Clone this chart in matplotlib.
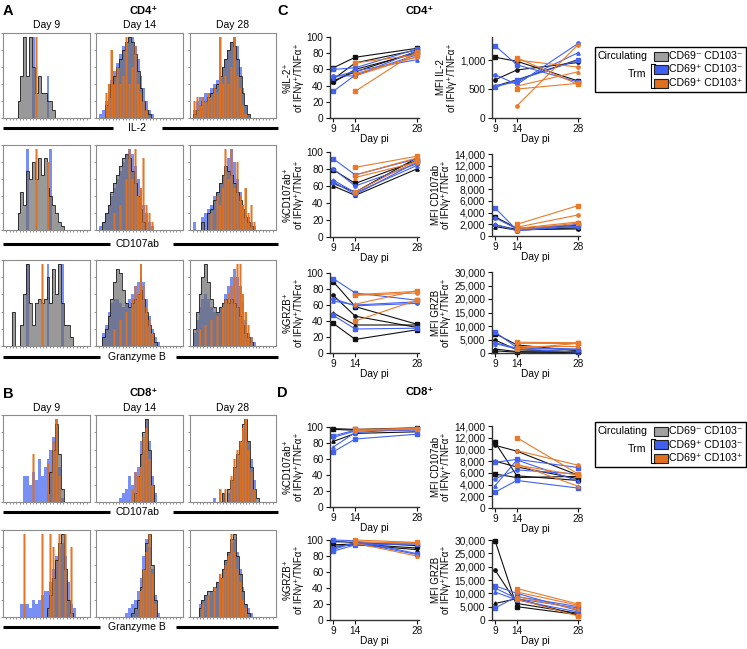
import matplotlib
matplotlib.use("Agg")
import matplotlib.pyplot as plt
from matplotlib.patches import Rectangle
from matplotlib.ticker import FuncFormatter
import numpy as np

plt.rcParams['font.family'] = ['Liberation Sans', 'DejaVu Sans']

W, H = 747, 649

# ---------------- histogram data (30 bins, % of max) ----------------
# each panel: [day9, day14, day28], each day: [gray, blue, orange]
cd4_il2 = [
    [[0,0,0,0,0,20,50,95,50,95,60,30,50,30,30,20,20,10,0,0,0,0,0,0,0,0,0,0,0,0],
     [0,0,0,0,0,0,0,0,0,0,95,0,0,0,0,50,0,0,0,0,0,0,0,0,0,0,0,0,0,0],
     [0,0,0,0,0,0,0,0,0,0,0,95,0,0,0,0,0,0,0,0,0,0,0,0,0,0,0,0,0,0]],
    [[0,0,0,15,25,40,50,60,70,80,90,95,90,75,55,35,20,10,5,0,0,0,0,0,0,0,0,0,0,0],
     [0,5,10,20,30,45,55,65,75,85,90,95,95,85,70,50,35,20,10,5,0,0,0,0,0,0,0,0,0,0],
     [0,0,0,30,40,80,40,60,40,50,95,40,60,85,40,30,20,10,0,0,0,0,0,0,0,0,0,0,0,0]],
    [[0,5,10,15,20,20,25,30,35,40,50,60,70,80,90,85,70,50,30,15,5,0,0,0,0,0,0,0,0,0],
     [0,10,20,25,25,30,30,35,40,45,50,60,70,80,90,95,85,60,35,15,5,0,0,0,0,0,0,0,0,0],
     [0,20,25,15,25,20,30,25,35,30,95,40,50,40,60,95,50,35,15,5,0,0,0,0,0,0,0,0,0,0]],
]
cd4_cd107 = [
    [[0,0,0,0,0,20,45,30,70,60,80,60,85,65,85,50,40,30,20,10,5,0,0,0,0,0,0,0,0,0],
     [0,0,0,0,0,0,0,0,95,0,0,0,0,0,0,0,95,0,0,0,0,0,0,0,0,0,0,0,0,0],
     [0,0,0,0,0,0,0,0,0,0,0,95,0,0,0,80,0,0,0,0,0,0,0,0,0,0,0,0,0,0]],
    [[0,0,10,20,30,45,55,65,75,85,90,85,70,55,40,25,10,0,0,0,0,0,0,0,0,0,0,0,0,0],
     [0,5,10,20,30,40,50,60,70,80,90,95,90,75,60,45,30,20,10,5,0,0,0,0,0,0,0,0,0,0],
     [0,0,0,0,0,0,20,0,30,0,60,95,60,95,40,50,85,30,20,10,0,0,0,0,0,0,0,0,0,0]],
    [[0,0,0,0,10,0,20,25,35,45,55,65,75,70,65,55,45,35,25,15,10,5,0,0,0,0,0,0,0,0],
     [0,10,0,0,15,20,25,30,40,45,55,65,75,85,95,80,60,45,30,20,15,10,5,0,0,0,0,0,0,0],
     [0,0,0,0,0,0,0,20,0,40,30,50,95,60,95,50,80,40,30,50,20,30,10,0,0,0,0,0,0,0]],
]
cd4_grzb = [
    [[0,0,0,40,0,0,25,60,95,50,25,50,55,50,55,80,50,90,60,95,50,25,25,10,0,0,0,0,0,0],
     [0,0,0,0,0,0,0,0,95,0,0,0,0,0,0,95,0,0,0,0,95,0,0,0,0,0,0,0,0,0],
     [0,0,0,0,0,0,0,0,0,0,0,0,0,95,0,0,0,0,0,0,0,0,0,0,0,0,0,0,0,0]],
    [[0,0,10,20,35,55,75,90,85,65,50,45,50,55,60,65,55,40,25,15,5,0,0,0,0,0,0,0,0,0],
     [0,0,15,25,40,50,55,55,50,45,50,55,60,70,75,80,75,55,35,20,10,5,0,0,0,0,0,0,0,0],
     [0,0,0,0,0,0,20,0,30,0,40,0,55,70,60,95,70,45,30,15,0,0,0,0,0,0,0,0,0,0]],
    [[0,20,40,60,80,95,75,55,45,40,45,50,55,50,55,50,45,35,25,15,10,5,0,0,0,0,0,0,0,0],
     [0,15,30,45,55,60,55,45,40,40,45,50,60,70,80,90,80,70,50,30,15,10,5,0,0,0,0,0,0,0],
     [0,0,0,20,0,25,0,30,0,35,0,45,55,60,70,80,95,95,60,40,25,10,0,0,0,0,0,0,0,0]],
]
cd8_cd107 = [
    [[0,0,0,0,0,0,0,0,0,0,0,0,0,0,0,10,35,60,90,55,15,0,0,0,0,0,0,0,0,0],
     [0,0,0,0,0,0,0,30,30,20,35,25,50,30,40,50,60,75,95,40,5,0,0,0,0,0,0,0,0,0],
     [0,0,0,0,0,0,0,0,0,0,55,0,0,0,0,45,0,70,95,30,0,0,0,0,0,0,0,0,0,0]],
    [[0,0,0,0,0,0,0,0,0,0,0,0,0,10,30,55,80,95,60,20,0,0,0,0,0,0,0,0,0,0],
     [0,0,0,0,0,0,0,0,5,10,15,30,20,35,40,70,60,95,70,30,10,0,0,0,0,0,0,0,0,0],
     [0,0,0,0,0,0,0,0,0,0,0,0,15,35,30,40,75,85,50,20,0,0,0,0,0,0,0,0,0,0]],
    [[0,0,0,0,0,0,0,0,0,0,0,10,0,15,25,40,55,70,90,95,70,40,15,5,0,0,0,0,0,0],
     [0,0,0,0,0,0,0,0,5,0,0,10,0,10,25,40,50,65,80,90,70,50,25,0,0,0,0,0,0,0],
     [0,0,0,0,0,0,0,0,0,0,15,0,15,0,30,50,60,70,85,95,60,35,15,0,0,0,0,0,0,0]],
]
cd8_grzb = [
    [[0,0,0,0,0,0,0,0,0,0,0,0,0,0,0,10,25,45,65,85,95,55,20,5,0,0,0,0,0,0],
     [0,0,0,0,0,0,15,15,15,10,20,15,20,25,30,30,40,55,70,80,85,70,40,15,10,0,0,0,0,0],
     [0,0,0,0,0,0,0,95,0,0,0,0,0,95,0,0,95,80,0,95,0,95,0,80,0,0,0,0,0,0]],
    [[0,0,0,0,0,0,0,0,0,0,0,0,5,10,20,35,55,85,95,60,20,0,0,0,0,0,0,0,0,0],
     [0,0,0,0,0,0,0,0,0,0,5,10,15,20,30,45,70,90,80,55,25,5,0,0,0,0,0,0,0,0],
     [0,0,0,0,0,0,0,0,0,0,0,0,0,0,0,30,55,75,95,50,15,0,0,0,0,0,0,0,0,0]],
    [[0,0,0,10,20,25,30,30,35,40,45,55,65,75,90,95,70,50,30,15,5,0,0,0,0,0,0,0,0,0],
     [0,0,0,15,20,25,25,30,30,40,45,55,65,75,85,90,75,55,35,15,10,5,0,0,0,0,0,0,0,0],
     [0,0,0,0,15,0,25,0,35,0,50,45,60,70,95,75,55,40,20,10,0,0,0,0,0,0,0,0,0,0]],
]

# ---------------- line plot data: [day9, day14, day28] ----------------
days = [9, 14, 28]

c_il2_pct_black = [[62, 75, 86], [48, 68, 84], [44, 60, 80], [46, 57, 82]]
c_il2_pct_blue = [[60, 62, 85], [52, 52, 83], [50, 58, 72], [33, 53, 78]]
c_il2_pct_orange = [[None, 68, 78], [None, 55, 75], [None, 52, 76], [None, 33, 82]]

c_il2_mfi_black = [[1050, 980, 640], [660, 830, 960], [550, 660, 1010]]
c_il2_mfi_blue = [[1250, 920, 620], [750, 580, 1290], [560, 620, 1130], [530, 650, 1000]]
c_il2_mfi_orange = [[None, 1040, 580], [None, 1000, 880], [None, 550, 800],
                    [None, 500, 600], [None, 210, 1270]]

c_cd107_pct_black = [[79, 63, 90], [63, 53, 93], [60, 49, 80]]
c_cd107_pct_blue = [[92, 73, 92], [80, 60, 86], [67, 52, 84], [65, 50, 88]]
c_cd107_pct_orange = [[None, 82, 95], [None, 73, 93], [None, 70, 88], [None, 53, 90]]

c_cd107_mfi_black = [[3300, 1300, 1800], [1900, 1100, 1200], [1600, 1000, 1400]]
c_cd107_mfi_blue = [[4800, 1000, 2000], [3100, 1200, 1500], [2000, 900, 1700]]
c_cd107_mfi_orange = [[None, 2000, 5200], [None, 1500, 3600], [None, 1300, 2400], [None, 1100, 2200]]

c_grzb_pct_black = [[89, 58, 36], [72, 46, 32], [50, 35, 35], [37, 17, 29]]
c_grzb_pct_blue = [[93, 75, 66], [68, 59, 62], [65, 60, 64], [47, 30, 31]]
c_grzb_pct_orange = [[None, 73, 77], [None, 72, 75], [None, 61, 78], [None, 40, 66]]

c_grzb_mfi_black = [[7200, 3000, 800], [4800, 1200, 500], [1500, 500, 300], [800, 300, 200]]
c_grzb_mfi_blue = [[7800, 2000, 1500], [3800, 1800, 1200], [3500, 1500, 300]]
c_grzb_mfi_orange = [[None, 4000, 3800], [None, 3600, 3500], [None, 2500, 2500], [None, 1500, 3600]]

d_cd107_pct_black = [[98, 97, 99], [97, 96, 97], [82, 92, 94]]
d_cd107_pct_blue = [[89, 96, 97], [87, 95, 96], [75, 93, 98], [69, 85, 91]]
d_cd107_pct_orange = [[None, 97, 98], [None, 96, 97], [None, 95, 99]]

d_cd107_mfi_black = [[11200, 5500, 4700], [10700, 9700, 5600], [8000, 7000, 5000], [5800, 5200, 5400]]
d_cd107_mfi_blue = [[7800, 8300, 6900], [5000, 6500, 5800], [3800, 8200, 4600], [2700, 4700, 3400]]
d_cd107_mfi_orange = [[None, 12000, 5800], [None, 9800, 7300], [None, 7500, 3700], [None, 7300, 5600]]

d_grzb_pct_black = [[98, 97, 93], [94, 95, 90], [92, 94, 88]]
d_grzb_pct_blue = [[100, 99, 83], [90, 96, 96], [88, 97, 82], [86, 94, 95]]
d_grzb_pct_orange = [[None, 100, 97], [None, 98, 96], [None, 96, 80]]

d_grzb_mfi_black = [[29800, 5000, 2000], [18800, 6200, 2500], [6200, 8000, 1800]]
d_grzb_mfi_blue = [[12800, 10000, 3500], [12000, 8000, 4500], [10500, 7500, 3000], [4500, 8800, 5000]]
d_grzb_mfi_orange = [[None, 11800, 6000], [None, 10500, 5500], [None, 8800, 4000], [None, 7800, 1500]]

day_labels = ["Day 9", "Day 14", "Day 28"]
legend_labels = ["CD69\u207b CD103\u207b", "CD69\u207a CD103\u207b", "CD69\u207a CD103\u207a"]

GRAY = "#a0a0a0"
BLUE = "#3f60f0"
ORANGE = "#e0701e"
LINE_COLORS = ["#111111", "#4262f2", "#e87a2a"]

fig = plt.figure(figsize=(W / 100, H / 100), dpi=100)
bg = fig.add_axes([0, 0, 1, 1])
bg.set_xlim(0, W)
bg.set_ylim(H, 0)
bg.axis('off')


def add_ax(x0, y0, x1, y1):
    return fig.add_axes([x0 / W, 1 - y1 / H, (x1 - x0) / W, (y1 - y0) / H])


hist_cols = [(3, 90), (96, 183), (190, 276)]
edges = np.linspace(0, 1, 31)
centers = (edges[:-1] + edges[1:]) / 2


def hist_row(panel, y0, y1):
    for (x0, x1), day in zip(hist_cols, panel):
        ax = add_ax(x0, y0, x1, y1)
        gray, blue, orange = day
        ax.stairs(blue, edges, fill=True, color=BLUE, alpha=0.7, lw=0)
        ax.stairs(gray, edges, fill=True, color="#6e6e6e", alpha=0.7, lw=0)
        ax.stairs(gray, edges, color="#202020", lw=0.6)
        ax.stairs(orange, edges, fill=True, color=ORANGE, alpha=0.5, lw=0)
        # orange spikes on top
        ax.bar(centers, orange, width=0.014, color=ORANGE, alpha=0.9, lw=0)
        ax.set_xlim(0, 1)
        ax.set_ylim(0, 100)
        for s in ax.spines.values():
            s.set_color("#8c8c8c")
            s.set_linewidth(0.8)
        ax.set_yticks([0, 20, 40, 60, 80, 100])
        ax.set_xticks(np.linspace(0.04, 0.96, 25))
        ax.tick_params(length=1.5, width=0.5, colors="#666666",
                       labelleft=False, labelbottom=False)


def row_label(text, y, gap_l, gap_r):
    bg.plot([3, gap_l], [y, y], color="black", lw=2.2, solid_capstyle='butt')
    bg.plot([gap_r, 278], [y, y], color="black", lw=2.2, solid_capstyle='butt')
    bg.text(137, y, text, fontsize=7.5, ha='center', va='center')


# Panel A
bg.text(3, 11, "A", fontsize=10.5, fontweight='bold', va='center')
bg.text(144, 11, "CD4\u207a", fontsize=8, fontweight='bold', ha='center', va='center')
for (x0, x1), lab in zip(hist_cols, day_labels):
    bg.text((x0 + x1) / 2, 25, lab, fontsize=7.5, ha='center', va='center')
hist_row(cd4_il2, 33, 118)
row_label("IL-2", 128, 113, 162)
hist_row(cd4_cd107, 145, 230)
row_label("CD107ab", 244, 110, 173)
hist_row(cd4_grzb, 260, 346)
row_label("Granzyme B", 357, 100, 176)

# Panel B
bg.text(3, 394, "B", fontsize=10.5, fontweight='bold', va='center')
bg.text(144, 393, "CD8\u207a", fontsize=8, fontweight='bold', ha='center', va='center')
for (x0, x1), lab in zip(hist_cols, day_labels):
    bg.text((x0 + x1) / 2, 408, lab, fontsize=7.5, ha='center', va='center')
hist_row(cd8_cd107, 415, 502)
row_label("CD107ab", 512, 110, 173)
hist_row(cd8_grzb, 530, 617)
row_label("Granzyme B", 627, 100, 176)

markers = ['s', 'o', '^', 's', 'o']
comma = FuncFormatter(lambda v, p: f"{int(v):,}")


def line_panel(box, groups, ylim, yticks, ylabel):
    ax = add_ax(*box)
    for series, color in zip(groups, LINE_COLORS):
        for i, vals in enumerate(series):
            xs = [d for d, v in zip(days, vals) if v is not None]
            ys = [v for v in vals if v is not None]
            ax.plot(xs, ys, color=color, lw=0.8, marker=markers[i],
                    ms=2.4, clip_on=False)
    ax.set_xlim(8.2, 28.4)
    ax.set_ylim(*ylim)
    ax.set_xticks(days)
    ax.set_yticks(yticks)
    if ylim[1] > 100:
        ax.yaxis.set_major_formatter(comma)
    for s in ['top', 'right']:
        ax.spines[s].set_visible(False)
    for s in ['left', 'bottom']:
        ax.spines[s].set_linewidth(1.0)
        ax.spines[s].set_color("#333333")
    ax.tick_params(length=3, width=0.8, labelsize=7.3, pad=1.5, colors="#111111")
    ax.set_xlabel("Day pi", fontsize=7.3, labelpad=0)
    ax.set_ylabel(ylabel, fontsize=7, linespacing=1.1, labelpad=2)
    return ax


LX = (329.8, 418.5)
RX = (491.5, 580)
pct = (0, 100)
pct_ticks = [0, 20, 40, 60, 80, 100]
of = "\nof IFN\u03b3\u207a/TNF\u03b1\u207a"

# Panel C
bg.text(277, 11, "C", fontsize=10.5, fontweight='bold', va='center')
bg.text(420, 11, "CD4\u207a", fontsize=8, fontweight='bold', ha='center', va='center')
line_panel((LX[0], 37, LX[1], 118), [c_il2_pct_black, c_il2_pct_blue, c_il2_pct_orange],
           pct, pct_ticks, "%IL-2\u207a" + of)
line_panel((RX[0], 37, RX[1], 118), [c_il2_mfi_black, c_il2_mfi_blue, c_il2_mfi_orange],
           (0, 1400), [0, 500, 1000], "MFI IL-2" + of)
line_panel((LX[0], 152, LX[1], 237), [c_cd107_pct_black, c_cd107_pct_blue, c_cd107_pct_orange],
           pct, pct_ticks, "%CD107ab\u207a" + of)
line_panel((RX[0], 154, RX[1], 236), [c_cd107_mfi_black, c_cd107_mfi_blue, c_cd107_mfi_orange],
           (0, 14000), list(range(0, 14001, 2000)), "MFI CD107ab" + of)
line_panel((LX[0], 273, LX[1], 353), [c_grzb_pct_black, c_grzb_pct_blue, c_grzb_pct_orange],
           pct, pct_ticks, "%GRZB\u207a" + of)
line_panel((RX[0], 272, RX[1], 353), [c_grzb_mfi_black, c_grzb_mfi_blue, c_grzb_mfi_orange],
           (0, 30000), list(range(0, 30001, 5000)), "MFI GRZB" + of)

# Panel D
bg.text(277, 393, "D", fontsize=10.5, fontweight='bold', va='center')
bg.text(420, 392, "CD8\u207a", fontsize=8, fontweight='bold', ha='center', va='center')
line_panel((LX[0], 427, LX[1], 507), [d_cd107_pct_black, d_cd107_pct_blue, d_cd107_pct_orange],
           pct, pct_ticks, "%CD107ab\u207a" + of)
line_panel((RX[0], 426, RX[1], 508), [d_cd107_mfi_black, d_cd107_mfi_blue, d_cd107_mfi_orange],
           (0, 14000), list(range(0, 14001, 2000)), "MFI CD107ab" + of)
line_panel((LX[0], 540, LX[1], 620), [d_grzb_pct_black, d_grzb_pct_blue, d_grzb_pct_orange],
           pct, pct_ticks, "%GRZB\u207a" + of)
line_panel((RX[0], 540, RX[1], 620), [d_grzb_mfi_black, d_grzb_mfi_blue, d_grzb_mfi_orange],
           (0, 30000), list(range(0, 30001, 5000)), "MFI GRZB" + of)


def legend_box(y0):
    bg.add_patch(Rectangle((595, y0), 151, 45, fill=False, ec='black', lw=1.0))
    bg.text(597, y0 + 9, "Circulating", fontsize=7.6, va='center')
    bg.text(628, y0 + 27, "Trm", fontsize=7.6, va='center')
    bg.plot([655, 651, 651, 655], [y0 + 17, y0 + 17, y0 + 41, y0 + 41],
            color='black', lw=0.8)
    for k, (lab, col) in enumerate(zip(legend_labels, [GRAY, BLUE, ORANGE])):
        yc = y0 + 9 + k * 13.5
        bg.add_patch(Rectangle((654, yc - 4.5), 14, 9, fc=col, ec='#222222', lw=0.8))
        bg.text(669, yc, lab, fontsize=7.6, va='center')


legend_box(47)
legend_box(422)

fig.savefig("out.png", dpi=100)
